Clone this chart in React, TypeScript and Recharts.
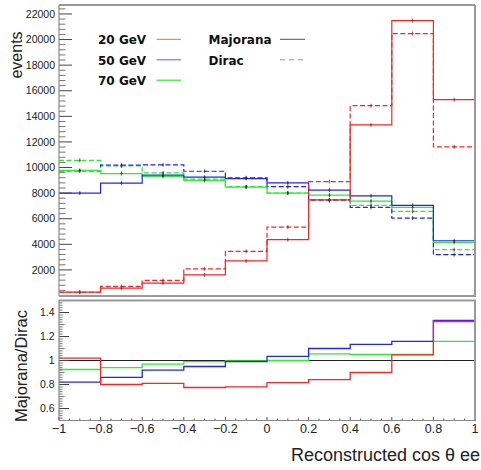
import React from 'react'
import { ComposedChart, Line, XAxis, YAxis, ReferenceLine } from 'recharts'

// bin edges / centres of the cos(theta_ee) histogram
const binEdges = [-1, -0.8, -0.6, -0.4, -0.2, 0, 0.2, 0.4, 0.6, 0.8, 1]
const binCenters = [-0.9, -0.7, -0.5, -0.3, -0.1, 0.1, 0.3, 0.5, 0.7, 0.9]

// events per bin
const maj20 = [260, 570, 960, 1610, 2700, 4360, 7480, 13330, 21480, 15300]
const dir20 = [255, 710, 1180, 2080, 3450, 5350, 8900, 14830, 20470, 11610]
const maj50 = [8000, 8780, 9400, 9250, 9140, 8800, 8230, 7790, 7040, 4280]
const dir50 = [9740, 10180, 10210, 9710, 9200, 8500, 7480, 6880, 6050, 3200]
const maj70 = [9770, 9530, 9300, 8990, 8470, 8000, 7840, 7380, 6880, 4150]
const dir70 = [10560, 10120, 9580, 9090, 8500, 8010, 7420, 7050, 6570, 3580]

// Majorana / Dirac ratio per bin
const ratio20 = [1.02, 0.8, 0.81, 0.775, 0.78, 0.815, 0.84, 0.9, 1.047, 1.325]
const ratio50 = [0.82, 0.86, 0.92, 0.95, 0.99, 1.035, 1.1, 1.135, 1.16, 1.335]
const ratio70 = [0.925, 0.94, 0.97, 0.99, 0.997, 1.0, 1.055, 1.05, 1.05, 1.16]

const massLabels = ['20 GeV', '50 GeV', '70 GeV']
const typeLabels = ['Majorana', 'Dirac']

const C20 = '#ff2222'
const C50 = '#2222ff'
const C70 = '#2aee2a'
const DASH = '5 2.5'
const FONT = '"Liberation Sans", Arial, sans-serif'

function range(lo: number, hi: number, step: number) {
  const out: number[] = []
  const n = Math.round((hi - lo) / step)
  for (let i = 0; i <= n; i++) out.push(Math.round((lo + i * step) * 1000) / 1000)
  return out
}

const xTicks = range(-1, 1, 0.05)
const eventTicks = range(0, 22400, 400)
const ratioTicks = range(0.5, 1.5, 0.02)

function stepRows(series: Record<string, number[]>) {
  return binEdges.map((x, i) => {
    const row: any = { x }
    for (const k in series) row[k] = series[k][Math.min(i, series[k].length - 1)]
    return row
  })
}

function centerRows(series: Record<string, number[]>) {
  return binCenters.map((x, i) => {
    const row: any = { x }
    for (const k in series) row[k] = series[k][i]
    return row
  })
}

const upperSeries = { m20: maj20, d20: dir20, m50: maj50, d50: dir50, m70: maj70, d70: dir70 }
const upperRows = stepRows(upperSeries)
const upperCenters = centerRows(upperSeries)
const lowerRows = stepRows({ r20: ratio20, r50: ratio50, r70: ratio70 })

const upperLines = [
  { key: 'd70', color: C70, dash: DASH },
  { key: 'd50', color: C50, dash: DASH },
  { key: 'm70', color: C70 },
  { key: 'm50', color: C50 },
  { key: 'd20', color: C20, dash: DASH },
  { key: 'm20', color: C20 },
]

const fmtCos = (v: number) => (v < 0 ? '\u2212' : '') + String(Math.round(Math.abs(v) * 10) / 10)

// small stat. error marker at the bin centre
const ErrMark = (p: any) => {
  if (p.cx == null || p.cy == null) return <g key={p.index} />
  return (
    <g key={p.index} opacity={0.75}>
      <line x1={p.cx} x2={p.cx} y1={p.cy - 2} y2={p.cy + 2} stroke={p.mark} strokeWidth={1} />
      <line x1={p.cx - 1} x2={p.cx + 1} y1={p.cy} y2={p.cy} stroke={p.mark} strokeWidth={1} />
    </g>
  )
}

const UpperXTick = (p: any) => {
  const v = p.payload.value
  const major = Math.round(v * 100) % 20 === 0
  return <line x1={p.x} x2={p.x} y1={p.y} y2={p.y - (major ? 7 : 3.3)} stroke="#555" strokeWidth={1} />
}

const LowerXTick = (p: any) => {
  const v = p.payload.value
  const major = Math.round(v * 100) % 20 === 0
  return (
    <g>
      <line x1={p.x} x2={p.x} y1={p.y} y2={p.y - (major ? 3.5 : 2)} stroke="#555" strokeWidth={1} />
      {major && (
        <text x={p.x} y={p.y + 12.3} textAnchor="middle" fontSize={12.5} fontFamily={FONT} fill="#222">
          {fmtCos(v)}
        </text>
      )}
    </g>
  )
}

const UpperYTick = (p: any) => {
  const v = p.payload.value
  const major = v % 2000 === 0
  return (
    <g>
      <line x1={p.x} x2={p.x + (major ? 13 : 6.5)} y1={p.y} y2={p.y} stroke={major ? '#444' : '#777'} strokeWidth={1} />
      {major && v > 0 && (
        <text x={p.x - 4} y={p.y + 3.7} textAnchor="end" fontSize={10.5} fontFamily={FONT} fill="#222">
          {v}
        </text>
      )}
    </g>
  )
}

const LowerYTick = (p: any) => {
  const v = p.payload.value
  const c = Math.round(v * 100)
  const major = c % 20 === 0
  const mid = c % 10 === 0
  const len = major ? 10 : mid ? 5.5 : 3.5
  return (
    <g>
      <line x1={p.x} x2={p.x + len} y1={p.y} y2={p.y} stroke={major ? '#444' : '#777'} strokeWidth={1} />
      {major && (
        <text x={p.x - 4.5} y={p.y + 3.7} textAnchor="end" fontSize={10.5} fontFamily={FONT} fill="#222">
          {String(Math.round(v * 10) / 10)}
        </text>
      )}
    </g>
  )
}

function Overlay() {
  const legendFont = { fontFamily: '"DejaVu Sans", Verdana, sans-serif', fontWeight: 700, fontSize: 12, fill: '#111' }
  const massColors = ['#ff5a5a', '#5a5aff', '#55ee55']
  return (
    <svg width={481} height={470} style={{ position: 'absolute', left: 0, top: 0, pointerEvents: 'none' }}>
      {/* frames */}
      <line x1={59} x2={475} y1={5} y2={5} stroke="#333" strokeWidth={1} />
      <line x1={59} x2={59} y1={5} y2={296} stroke="#888" strokeWidth={1.2} />
      <line x1={475} x2={475} y1={5} y2={296} stroke="#999" strokeWidth={2} />
      <line x1={59} x2={476} y1={296} y2={296} stroke="#999" strokeWidth={2} />
      <line x1={59} x2={476} y1={300.5} y2={300.5} stroke="#999" strokeWidth={2} />
      <line x1={59} x2={59} y1={300} y2={420.5} stroke="#888" strokeWidth={1.2} />
      <line x1={475} x2={475} y1={300} y2={421} stroke="#999" strokeWidth={2} />
      <line x1={59} x2={476} y1={420.5} y2={420.5} stroke="#888" strokeWidth={1.2} />

      {/* axis titles */}
      <text transform="translate(21.5,55) rotate(-90)" textAnchor="middle" fontSize={16} fontFamily={FONT} fill="#222">
        events
      </text>
      <text transform="translate(27,366) rotate(-90)" textAnchor="middle" fontSize={16.5} fontFamily={FONT} fill="#222">
        Majorana/Dirac
      </text>
      <text x={480} y={461} textAnchor="end" fontSize={18} fontFamily={FONT} fill="#222">
        Reconstructed cos θ ee
      </text>

      {/* legend */}
      {massLabels.map((t, i) => (
        <g key={t}>
          <text x={98} y={44 + i * 20.7} {...legendFont}>{t}</text>
          <line x1={156.5} x2={181} y1={39.3 + i * 20.5} y2={39.3 + i * 20.5} stroke={massColors[i]} strokeWidth={i === 2 ? 1.6 : 1} />
        </g>
      ))}
      {typeLabels.map((t, i) => (
        <g key={t}>
          <text x={208.5} y={44 + i * 20.7} {...legendFont}>{t}</text>
          <line x1={280} x2={305} y1={39.3 + i * 20.5} y2={39.3 + i * 20.5}
            stroke={i === 0 ? '#555' : '#999'} strokeWidth={1} strokeDasharray={i === 1 ? '5 4' : undefined} />
        </g>
      ))}
    </svg>
  )
}

export default function App() {
  return (
    <div style={{ position: 'absolute', left: 0, top: 0, width: 481, height: 470, background: '#fff', overflow: 'hidden' }}>
      <div style={{ position: 'absolute', left: 0, top: 0 }}>
        <ComposedChart width={481} height={300} data={upperRows} margin={{ top: 5, right: 6, bottom: 4.5, left: 0 }}>
          <XAxis type="number" dataKey="x" domain={[-1, 1]} ticks={xTicks} interval={0} height={0}
            axisLine={false} tickLine={false} tickSize={0} tickMargin={0} tick={<UpperXTick />} allowDataOverflow />
          <YAxis type="number" domain={[0, 22700]} ticks={eventTicks} interval={0} width={59}
            axisLine={false} tickLine={false} tickSize={0} tickMargin={0} tick={<UpperYTick />} allowDataOverflow />
          {upperLines.map(s => (
            <Line key={s.key} type="stepAfter" dataKey={s.key} stroke={s.color} strokeWidth={1.2}
              strokeDasharray={s.dash} dot={false} activeDot={false} isAnimationActive={false} />
          ))}
          {upperLines.map(s => (
            <Line key={'e' + s.key} data={upperCenters} dataKey={s.key} stroke="none" activeDot={false}
              dot={(p: any) => <ErrMark {...p} key={p.index} mark={s.color === C20 ? '#b01010' : '#222'} />}
              isAnimationActive={false} />
          ))}
        </ComposedChart>
      </div>
      <div style={{ position: 'absolute', left: 0, top: 290 }}>
        <ComposedChart width={481} height={180} data={lowerRows} margin={{ top: 10.5, right: 6, bottom: 29.5, left: 0 }}>
          <XAxis type="number" dataKey="x" domain={[-1, 1]} ticks={xTicks} interval={0} height={20}
            axisLine={false} tickLine={false} tickSize={0} tickMargin={0} tick={<LowerXTick />} allowDataOverflow />
          <YAxis type="number" domain={[0.5, 1.5]} ticks={ratioTicks} interval={0} width={59}
            axisLine={false} tickLine={false} tickSize={0} tickMargin={0} tick={<LowerYTick />} allowDataOverflow />
          <ReferenceLine y={1} stroke="#222" strokeWidth={1} />
          <Line type="stepAfter" dataKey="r70" stroke={C70} strokeWidth={1.3} dot={false} activeDot={false} isAnimationActive={false} />
          <Line type="stepAfter" dataKey="r50" stroke={C50} strokeWidth={1.3} dot={false} activeDot={false} isAnimationActive={false} />
          <Line type="stepAfter" dataKey="r20" stroke={C20} strokeWidth={1.3} dot={false} activeDot={false} isAnimationActive={false} />
        </ComposedChart>
      </div>
      <Overlay />
    </div>
  )
}
